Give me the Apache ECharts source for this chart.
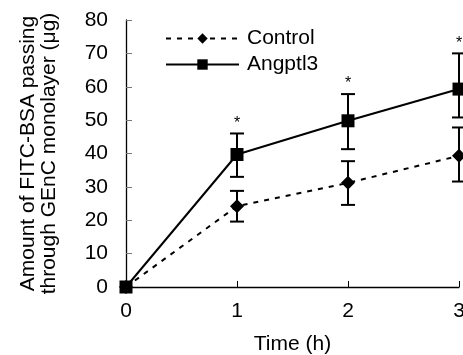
<!DOCTYPE html>
<html>
<head>
<meta charset="utf-8">
<script src="https://cdn.jsdelivr.net/npm/echarts@6/dist/echarts.min.js"></script>
<style>
  html, body { margin: 0; padding: 0; background: #fff; }
  #chart { width: 463px; height: 355px; }
</style>
</head>
<body>
<div id="chart"></div>
<script>
// values
const times = [0, 1, 2, 3];
const controlMean = [0, 24.2, 31.2, 39.3];
const controlLow = [0, 19.6, 24.6, 31.6];
const controlHigh = [0, 28.8, 37.7, 47.8];
const angMean = [0, 39.7, 49.8, 59.3];
const angLow = [0, 33, 41.3, 50.8];
const angHigh = [0, 46, 57.8, 70];
const stars = ['', '*', '*', '*'];
const yTicks = [0, 10, 20, 30, 40, 50, 60, 70, 80];

const font = 'Liberation Sans, Arial, sans-serif';
const chart = echarts.init(document.getElementById('chart'));

function errBars(low, high, marks) {
  return {
    type: 'custom',
    silent: true,
    z: 1,
    data: times.map((t, i) => [t, low[i], high[i], i]),
    renderItem: function (params, api) {
      const x = api.coord([api.value(0), 0])[0];
      const lo = api.coord([0, api.value(1)])[1];
      const hi = api.coord([0, api.value(2)])[1];
      const idx = api.value(3);
      if (hi === lo) return null;
      const w = 7;
      const st = { stroke: '#000', lineWidth: 2 };
      const kids = [
        { type: 'line', shape: { x1: x, y1: lo, x2: x, y2: hi }, style: st },
        { type: 'line', shape: { x1: x - w, y1: lo, x2: x + w, y2: lo }, style: st },
        { type: 'line', shape: { x1: x - w, y1: hi, x2: x + w, y2: hi }, style: st }
      ];
      if (marks && marks[idx]) {
        kids.push({
          type: 'text',
          style: { text: marks[idx], x: x, y: hi - 2, align: 'center', verticalAlign: 'bottom',
                   font: '16px ' + font, fill: '#000' }
        });
      }
      return { type: 'group', children: kids };
    }
  };
}

const option = {
  animation: false,
  grid: { left: 126, right: 4, top: 20, bottom: 68, outerBoundsMode: 'none', containLabel: false },
  legend: {
    left: 160, top: 23, orient: 'vertical', itemGap: 5,
    itemWidth: 73, itemHeight: 13,
    textStyle: { fontFamily: font, fontSize: 21, color: '#000', padding: [0, 0, 0, 3] },
    data: ['Control', 'Angptl3']
  },
  xAxis: {
    type: 'value', min: 0, max: 3, interval: 1,
    name: 'Time (h)', nameLocation: 'middle', nameGap: 47,
    nameTextStyle: { fontFamily: font, fontSize: 21, color: '#000' },
    axisLine: { lineStyle: { color: '#000', width: 1.3 } },
    axisTick: { inside: true, length: 6, lineStyle: { color: '#000' } },
    axisLabel: { fontFamily: font, fontSize: 21, color: '#000', margin: 14 },
    splitLine: { show: false }
  },
  yAxis: {
    type: 'value', min: 0, max: 80, interval: 10,
    name: 'Amount of FITC-BSA passing\nthrough GEnC monolayer (\u03bcg)',
    nameLocation: 'middle', nameGap: 66, nameRotate: 90,
    nameTextStyle: { fontFamily: font, fontSize: 21, color: '#000', lineHeight: 21 },
    axisLine: { lineStyle: { color: '#000', width: 1.3 } },
    axisTick: { inside: true, length: 6, lineStyle: { color: '#777' } },
    axisLabel: { fontFamily: font, fontSize: 21, color: '#000', margin: 18,
                 formatter: v => yTicks.includes(v) ? String(v) : '' },
    splitLine: { show: false }
  },
  series: [
    errBars(controlLow, controlHigh, null),
    errBars(angLow, angHigh, stars),
    {
      name: 'Control', type: 'line', z: 3,
      data: times.map((t, i) => [t, controlMean[i]]),
      symbol: 'diamond', symbolSize: 14, showSymbol: true,
      itemStyle: { color: '#000' },
      lineStyle: { color: '#000', width: 2, type: [5, 6] }
    },
    {
      name: 'Angptl3', type: 'line', z: 4,
      data: times.map((t, i) => [t, angMean[i]]),
      symbol: 'rect', symbolSize: 13, showSymbol: true,
      itemStyle: { color: '#000' },
      lineStyle: { color: '#000', width: 2 }
    }
  ]
};
chart.setOption(option);
</script>
</body>
</html>
